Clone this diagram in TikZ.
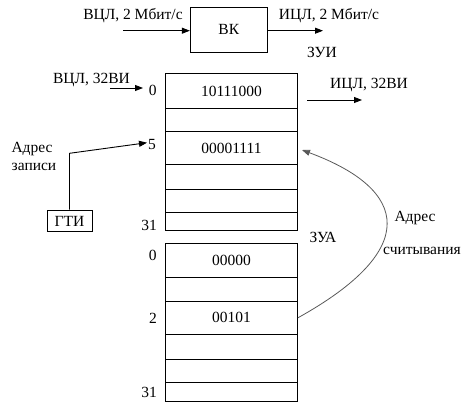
\documentclass[tikz,border=0pt]{standalone}
\usepackage{fontspec}
\setmainfont{Liberation Serif}
\newfontfamily\figfont{Liberation Serif}
\usetikzlibrary{arrows.meta,positioning}

\begin{document}
\begin{tikzpicture}[x=1pt, y=-1pt, line width=0.9pt, >={Triangle[length=8pt,width=6pt]},
  every node/.style={font=\figfont\fontsize{15.5}{18}\selectfont, inner sep=0pt},
  cell node/.style={draw, anchor=north west, minimum width=132pt},
  box node/.style={draw, minimum width=77pt, minimum height=45pt}]
\useasboundingbox (0,0) rectangle (473,406);
% top block
\node[box node] (vk) at (228.8,29.8) {ВК};
\node (vkinlbl) at (133,16) {ВЦЛ, 2 Мбит/с};
\node (vkoutlbl) at (329,16) {ИЦЛ, 2 Мбит/с};
\coordinate (vkin) at (123,30.7);
\coordinate (vkout) at (323,30.7);
\draw[->] (vkin) -- (vk.west |- vkin);
\draw[->] (vk.east |- vkout) -- (vkout);
% ZUI
\node (zui) at (322,52) {ЗУИ};
\node[cell node, minimum height=35pt] (u0) at (165,73.3) {10111000};
\node[cell node, minimum height=22.4pt] (u1) at (165,108.3) {};
\node[cell node, minimum height=33.6pt] (u5) at (165,130.7) {00001111};
\node[cell node, minimum height=25pt] (u6) at (165,164.3) {};
\node[cell node, minimum height=23pt] (u7) at (165,189.3) {};
\node[cell node, minimum height=17.7pt] (u31) at (165,212.3) {};
\node (un0) at (152.7,90) {0};
\node (un5) at (152,145) {5};
\node (un31) at (149,225) {31};
\node (uinlbl) at (91.5,80) {ВЦЛ, 32ВИ};
\node (uoutlbl) at (369,85) {ИЦЛ, 32ВИ};
\coordinate (uin) at (110,88);
\coordinate (uinend) at (143,88);
\coordinate (uout) at (307,100);
\coordinate (uoutend) at (362,100);
\draw[->] (uin) -- (uinend);
\draw[->] (uout) -- (uoutend);
% write address
\node[draw, minimum width=45pt, minimum height=21.7pt] (gti) at (69.5,221) {ГТИ};
\node (wlbl1) at (32,149) {Адрес};
\node (wlbl2) at (34,167) {записи};
\coordinate (wbend) at (68,153.3);
\coordinate (wtip) at (147,142.7);
\draw[->] (gti.north) -- (gti.north |- wbend) -- (wtip);
% ZUA
\node (zua) at (323,237) {ЗУА};
\node[cell node, minimum height=34pt] (a0) at (165,243.3) {00000};
\node[cell node, minimum height=23.4pt] (a1) at (165,277.3) {};
\node[cell node, minimum height=33.3pt] (a2) at (165,300.7) {00101};
\node[cell node, minimum height=25pt] (a3) at (165,334) {};
\node[cell node, minimum height=22.7pt] (a4) at (165,359) {};
\node[cell node, minimum height=19.3pt] (a31) at (165,381.7) {};
\node (an0) at (152.7,255) {0};
\node (an2) at (153,318) {2};
\node (an31) at (149,392) {31};
% read address
\node (rlbl1) at (415,218) {Адрес};
\node (rlbl2) at (422,251) {считывания};
\coordinate (rtip) at (302,150);
\draw[->, draw=black!65, line width=0.8pt] (a2.east) .. controls (420,250) and (410,190) .. (rtip);
\end{tikzpicture}
\end{document}
